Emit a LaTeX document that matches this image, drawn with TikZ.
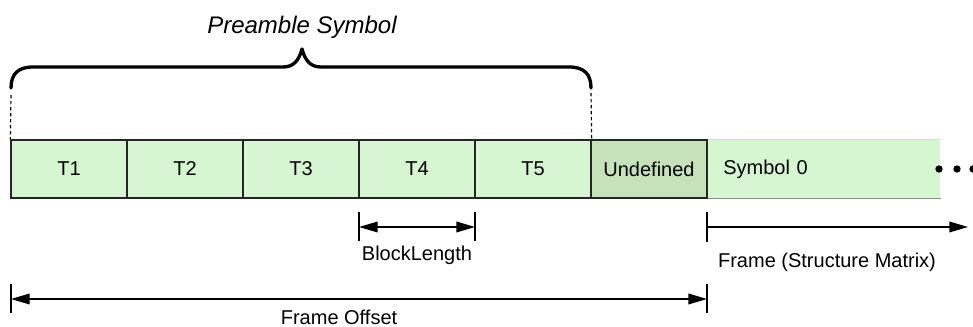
\documentclass[tikz,border=0pt]{standalone}
\usepackage{fontspec}
\setmainfont{Liberation Sans}
\usetikzlibrary{arrows.meta}
\definecolor{cellgreen}{HTML}{D6F6D1}
\definecolor{undefgreen}{HTML}{C5E2BA}
\tikzset{
  cell/.style={draw=black!85, line width=1pt, fill=cellgreen, minimum width=87pt, minimum height=43.5pt, inner sep=0pt, font=\fontsize{15}{18}\selectfont},
  undefcell/.style={cell, fill=undefgreen},
  symcell/.style={fill=cellgreen, minimum height=43.5pt, text width=150.75pt, inner xsep=12pt, inner ysep=0pt, align=left, font=\fontsize{15}{18}\selectfont},
  lbl/.style={font=\fontsize{15}{18}\selectfont, inner sep=0pt},
  dimline/.style={line width=1pt, -{Triangle[length=14pt,width=8pt]}},
  dimboth/.style={line width=1pt, {Triangle[length=14pt,width=8pt]}-{Triangle[length=14pt,width=8pt]}},
  tick/.style={line width=0.9pt},
  guide/.style={line width=0.9pt, dash pattern=on 2.5pt off 2pt},
  bracepath/.style={line width=2.5pt, line cap=round, line join=round},
  dot/.style={circle, fill=black, inner sep=0pt, minimum size=5.5pt}
}
\begin{document}
\begin{tikzpicture}[x=0.75pt, y=-0.75pt]
\useasboundingbox (0,0) rectangle (973,327);
% cells
\node[cell] (t1) at (69,169) {T1};
\node[cell] (t2) at (185,169) {T2};
\node[cell] (t3) at (301,169) {T3};
\node[cell] (t4) at (417,169) {T4};
\node[cell] (t5) at (533,169) {T5};
\node[symcell, anchor=west] (s0) at (707,169) {Symbol 0};
\draw[black!15, line width=0.8pt] (s0.north west) -- (s0.north east);
\draw[black!45, line width=0.8pt] (s0.south west) -- (s0.south east);
\node[undefcell] (und) at (649,169) {Undefined};
% dots
\node[dot] (d1) at (939,169) {};
\node[dot] (d2) at (957,169) {};
\node[dot] (d3) at (973,169) {};
% brace
\coordinate (bl) at (11,88);
\coordinate (br) at (591,88);
\coordinate (btip) at (302,49);
\draw[bracepath] (bl) .. controls (11,74) and (18,67) .. (33,67) -- (283,67)
  .. controls (294,67) and (299,60) .. (btip)
  .. controls (305,60) and (310,67) .. (321,67) -- (569,67)
  .. controls (584,67) and (br |- 0,74) .. (br);
\node[lbl, font=\fontsize{18}{21}\selectfont\itshape] (pre) at (302,27) {Preamble Symbol};
% dashed guides
\coordinate (g1a) at (11,95);
\coordinate (g2a) at (591,93);
\draw[guide] (g1a) -- (t1.north west);
\draw[guide] (g2a) -- (t5.north east);
% BlockLength
\coordinate (k1t) at (359,212); \coordinate (k1b) at (359,241);
\coordinate (k2t) at (475,212); \coordinate (k2b) at (475,241);
\coordinate (k1) at (359,227); \coordinate (k2) at (475,227);
\draw[tick] (k1t) -- (k1b);
\draw[tick] (k2t) -- (k2b);
\draw[dimboth] (k1) -- (k2);
\node[lbl] (blabel) at (417,255) {BlockLength};
% Frame (Structure Matrix)
\coordinate (f1t) at (707,212); \coordinate (f1b) at (707,242);
\coordinate (f1) at (707,227); \coordinate (f2) at (968,227);
\draw[tick] (f1t) -- (f1b);
\draw[dimline] (f1) -- (f2);
\node[lbl] (flabel) at (827,262) {Frame (Structure Matrix)};
% Frame Offset
\coordinate (o1t) at (11,284); \coordinate (o1b) at (11,313);
\coordinate (o2t) at (707,284); \coordinate (o2b) at (707,313);
\coordinate (o1) at (11,299); \coordinate (o2) at (707,299);
\draw[tick] (o1t) -- (o1b);
\draw[tick] (o2t) -- (o2b);
\draw[dimboth] (o1) -- (o2);
\node[lbl, anchor=base] (olabel) at (339,324) {Frame Offset};
\end{tikzpicture}
\end{document}
